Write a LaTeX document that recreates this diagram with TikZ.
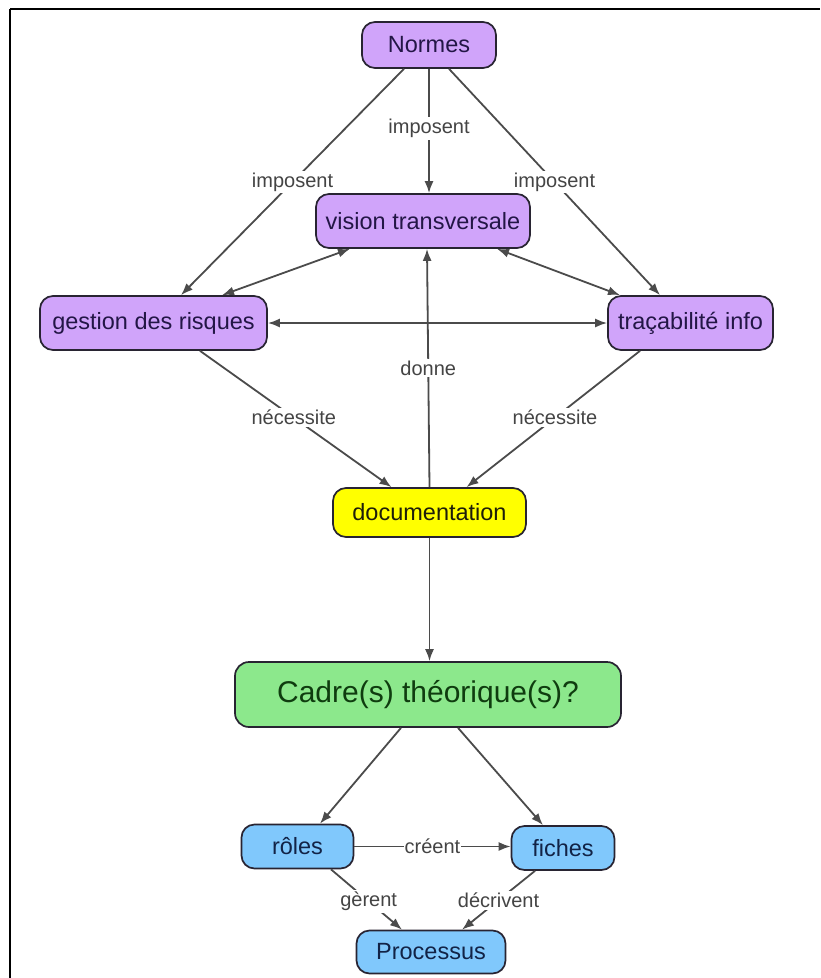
\documentclass[tikz,border=0pt]{standalone}
\usepackage{fontspec}
\setmainfont{Liberation Sans}
\usetikzlibrary{arrows.meta,calc}
\definecolor{purp}{RGB}{208,164,250}
\definecolor{yel}{RGB}{255,255,0}
\definecolor{grn}{RGB}{140,232,140}
\definecolor{blu}{RGB}{128,200,252}
\definecolor{edgegray}{RGB}{75,75,75}
\definecolor{lblgray}{RGB}{68,68,68}
\definecolor{bord}{RGB}{40,36,50}
\tikzset{
  box/.style={draw=bord, line width=1.7pt, rounded corners=13pt, inner sep=0pt,
    font=\fontsize{23.5}{28}\selectfont, align=center},
  pbox/.style={box, fill=purp, text={rgb,255:red,35;green,22;blue,70}},
  ybox/.style={box, fill=yel, text={rgb,255:red,30;green,30;blue,10}},
  gbox/.style={box, fill=grn, text={rgb,255:red,15;green,60;blue,15}, font=\fontsize{30}{36}\selectfont, rounded corners=14pt},
  bbox/.style={box, fill=blu, text={rgb,255:red,18;green,35;blue,70}},
  conn/.style={draw=edgegray, line width=1.8pt, -{Latex[length=12pt,width=9pt]}},
  bconn/.style={conn, {Latex[length=12pt,width=9pt]}-{Latex[length=12pt,width=9pt]}},
  lbl/.style={fill=white, inner sep=2pt, text=lblgray, font=\fontsize{20}{24}\selectfont},
}
\begin{document}
\begin{tikzpicture}[x=1pt,y=-1pt]
\useasboundingbox (0,0) rectangle (820,978);
\fill[white] (0,0) rectangle (820,978);
% frame
\draw[black, line width=2.5pt] (10,9) -- (820,9);
\draw[black, line width=2.5pt] (10,9) -- (10,978);

% nodes
\node[pbox, minimum width=134pt, minimum height=46pt] (normes) at (429,45) {Normes};
\node[pbox, minimum width=214pt, minimum height=54pt] (vision) at (423,221) {vision transversale};
\node[pbox, minimum width=227pt, minimum height=54pt] (gestion) at (153.5,323) {gestion des risques};
\node[pbox, minimum width=165pt, minimum height=54pt] (trac) at (690.5,323) {traçabilité info};
\node[ybox, minimum width=193pt, minimum height=49pt] (doc) at (429.5,512.5) {documentation};
\node[gbox, minimum width=386pt, minimum height=65pt] (cadre) at (428,694.5) {Cadre(s) théorique(s)?};
\node[bbox, minimum width=112pt, minimum height=44pt] (roles) at (297.5,846.5) {rôles};
\node[bbox, minimum width=103pt, minimum height=44pt] (fiches) at (563,848) {fiches};
\node[bbox, minimum width=149pt, minimum height=43pt] (proc) at (431,952) {Processus};

% connectors
\draw[conn] ($(normes.south)+(-25,0)$) -- node[lbl, pos=0.5] (l1) {imposent} ($(gestion.north)+(27.5,0)$);
\draw[conn] (normes.south) -- node[lbl, pos=0.48] (l2) {imposent} (normes.south |- vision.north);
\draw[conn] ($(normes.south)+(20,0)$) -- node[lbl, pos=0.5] (l3) {imposent} ($(trac.north)+(-30.5,0)$);
\draw[bconn] ($(vision.south)+(-73,0)$) -- ($(gestion.north)+(68.5,0)$);
\draw[bconn] ($(vision.south)+(74,0)$) -- ($(trac.north)+(-70.5,0)$);
\draw[bconn] (gestion.east) -- (trac.west);
\draw[conn] (doc.north) -- node[lbl, pos=0.5] (l4) {donne} ($(vision.south)+(4,0)$);
\draw[conn] ($(gestion.south)+(46.5,0)$) -- node[lbl, pos=0.49] (l5) {nécessite} ($(doc.north)+(-38,0)$);
\draw[conn] ($(trac.south)+(-50.5,0)$) -- node[lbl, pos=0.49] (l6) {nécessite} ($(doc.north)+(37,0)$);
\draw[conn] (doc.south) -- (doc.south |- cadre.north);
\draw[conn] ($(cadre.south)+(-27,0)$) -- ($(roles.north)+(22.5,0)$);
\draw[conn] ($(cadre.south)+(30,0)$) -- ($(fiches.north)+(-20,0)$);
\draw[conn] (roles.east) -- node[lbl, pos=0.5, inner sep=1pt] (l7) {créent} (roles.east -| fiches.west);
\draw[conn] ($(roles.south)+(33.5,0)$) -- node[lbl, pos=0.53] (l8) {gèrent} ($(proc.north)+(-29,0)$);
\draw[conn] ($(fiches.south)+(-28,0)$) -- node[lbl, pos=0.5] (l9) {décrivent} ($(proc.north)+(31,0)$);
\end{tikzpicture}
\end{document}
